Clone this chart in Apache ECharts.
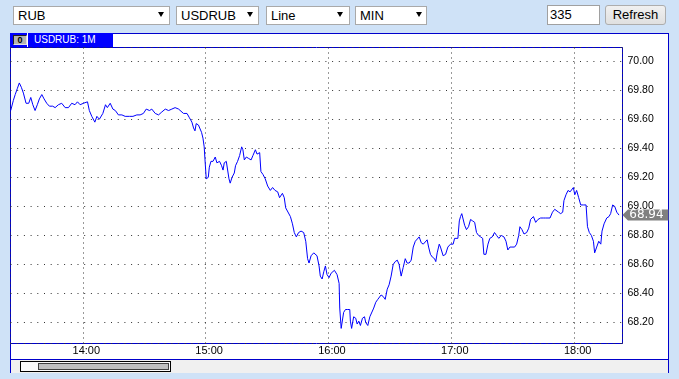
<!DOCTYPE html>
<html>
<head>
<meta charset="utf-8">
<script src="https://cdn.jsdelivr.net/npm/echarts@6/dist/echarts.min.js"></script>
<style>
html,body{margin:0;padding:0;width:679px;height:379px;overflow:hidden;background:#cfe2f7;font-family:"Liberation Sans",Arial,sans-serif;}
.ctl{position:absolute;box-sizing:border-box;height:19px;top:6px;background:#fff;border:1px solid #a9a9a9;font-size:13px;line-height:17px;padding-left:4px;color:#000;}
.arr{position:absolute;top:5px;width:0;height:0;border-left:3px solid transparent;border-right:3px solid transparent;border-top:5px solid #000;}
#inp{position:absolute;box-sizing:border-box;left:547px;top:5px;width:53px;height:20px;background:#fff;border:1px solid #a0a0a0;font-size:13px;line-height:18px;padding-left:2px;}
#btn{position:absolute;box-sizing:border-box;left:605px;top:5px;width:61px;height:20px;background:linear-gradient(#f0f0f0,#e0e0e0);border:1px solid #adadad;border-radius:3px;font-size:13px;line-height:18px;text-align:center;}
#frame{position:absolute;left:10px;top:33px;width:659px;height:340px;box-sizing:border-box;border:1px solid #0000cc;border-bottom:none;background:#fff;z-index:0;}
#chart{position:absolute;left:0;top:0;width:679px;height:379px;z-index:1;}
#hdr{position:absolute;left:10px;top:33px;width:103px;height:14px;background:#0000ff;z-index:2;}
#ico{position:absolute;left:3px;top:2px;width:14px;height:10px;box-sizing:border-box;background:#b4b4b4;border-top:1px solid #202020;border-left:1px solid #202020;border-right:1px solid #e0e0e0;border-bottom:1px solid #e0e0e0;font-size:9px;font-weight:bold;line-height:8px;text-align:center;color:#000;}
#sep{position:absolute;left:17px;top:0;width:1px;height:14px;background:#fff;}
#ttl{position:absolute;left:24px;top:0;height:14px;line-height:14px;font-size:10px;color:#fff;white-space:nowrap;}
#scroll{position:absolute;left:11px;top:359px;width:657px;height:14px;box-sizing:border-box;background:#f0f0f0;border-top:1px solid #0000cc;z-index:2;}
#thumb{position:absolute;left:9px;top:1px;width:151px;height:11px;box-sizing:border-box;border:1px solid #000;background:#fafafa;}
#bar{position:absolute;left:17px;top:1px;width:131px;height:7px;box-sizing:border-box;border:1px solid #404040;background:#c0c0c0;}
</style>
</head>
<body>
<div class="ctl" style="left:13px;width:157px;">RUB<span class="arr" style="left:144px;"></span></div>
<div class="ctl" style="left:176px;width:83px;">USDRUB<span class="arr" style="left:70px;"></span></div>
<div class="ctl" style="left:266px;width:84px;">Line<span class="arr" style="left:70px;"></span></div>
<div class="ctl" style="left:355px;width:72px;">MIN<span class="arr" style="left:60px;"></span></div>
<div id="inp">335</div>
<div id="btn">Refresh</div>
<div id="frame"></div>
<div id="chart"></div>
<div id="hdr"><div id="ico">0</div><div id="sep"></div><div id="ttl">USDRUB: 1M</div></div>
<div id="scroll"><div id="thumb"><div id="bar"></div></div></div>
<script>
// Window: 13:24:42 .. 18:23:36 ; offsets below are minutes after window start
const windowStart = [13, 24, 42];
const windowMinutes = 298.9;
const yMin = 68.056;
const yMax = 70.094;
const lastPrice = 68.94;

const minutes = [
0.1,1.4,2.3,3.3,4.3,5.3,6.3,7.6,8.9,9.9,10.9,12.0,13.1,14.1,15.3,16.4,17.7,19.0,20.6,21.8,
23.4,25.0,26.7,28.3,29.9,31.5,32.7,34.0,35.6,37.6,38.5,39.7,41.2,42.2,43.4,45.1,46.4,47.3,48.7,50.0,
51.2,52.7,54.4,56.0,58.1,59.8,61.7,63.3,64.9,66.3,67.9,69.0,70.7,72.3,73.9,75.6,77.2,78.8,80.4,82.1,
82.9,84.5,86.2,87.4,88.6,89.4,90.1,90.7,91.8,92.7,93.3,94.0,94.6,95.0,95.6,96.6,97.1,97.9,98.9,100.0,
100.8,102.1,103.1,103.8,104.4,105.4,106.2,106.7,107.3,108.2,109.3,109.9,110.9,111.9,112.9,113.5,114.2,115.2,116.3,117.5,
118.4,119.6,120.4,121.7,122.3,123.3,124.4,125.6,126.9,128.0,129.2,130.5,131.4,132.8,133.7,134.4,136.7,137.7,138.6,139.6,
140.7,141.9,143.2,144.2,145.1,145.8,146.8,148.1,149.7,150.7,151.3,152.2,153.0,153.8,154.6,155.6,156.6,158.2,159.5,160.5,
160.8,161.5,162.0,162.7,163.6,164.7,165.7,166.0,166.6,167.6,168.6,169.3,170.1,170.9,171.9,172.9,173.5,174.5,175.5,176.4,
177.4,178.4,179.4,180.3,181.0,182.0,183.0,184.0,184.9,185.9,186.9,187.9,188.9,189.8,190.8,191.8,192.8,193.7,194.7,195.7,
196.7,197.7,198.6,199.6,200.6,201.6,202.5,203.5,204.2,205.1,206.1,207.1,207.7,208.4,209.4,210.0,211.3,212.5,213.6,214.9,
216.2,216.9,217.8,218.5,219.2,219.8,220.4,221.1,221.8,222.7,223.7,224.7,225.7,226.7,227.6,228.6,229.6,230.6,231.2,232.2,
233.2,234.1,235.3,236.4,237.4,238.5,239.7,241.0,242.0,242.9,243.9,244.9,246.2,247.2,248.2,248.8,249.8,250.8,252.1,253.1,
254.0,255.4,256.5,257.6,258.9,260.2,261.4,262.2,263.5,264.7,265.8,266.7,267.7,268.7,269.7,270.3,271.3,272.3,273.3,274.2,
274.9,275.6,276.5,277.5,278.5,279.8,281.1,281.8,282.7,283.7,284.7,285.3,286.3,287.3,288.3,288.9,289.9,291.2,292.3,293.1,
294.1,295.1,296.1,297.2
];
const prices = [
69.66,69.73,69.77,69.81,69.85,69.82,69.78,69.71,69.71,69.75,69.70,69.66,69.70,69.74,69.77,69.74,69.71,69.69,69.69,69.68,
69.70,69.71,69.68,69.68,69.71,69.70,69.72,69.70,69.71,69.72,69.66,69.62,69.58,69.62,69.60,69.64,69.70,69.68,69.71,69.67,
69.66,69.63,69.63,69.62,69.62,69.62,69.63,69.63,69.64,69.67,69.66,69.67,69.64,69.63,69.65,69.67,69.66,69.67,69.68,69.67,
69.66,69.64,69.64,69.61,69.58,69.54,69.52,69.57,69.56,69.55,69.51,69.47,69.41,69.32,69.19,69.20,69.27,69.31,69.31,69.34,
69.30,69.31,69.28,69.25,69.30,69.31,69.30,69.19,69.16,69.20,69.23,69.28,69.31,69.35,69.41,69.39,69.32,69.34,69.33,69.32,
69.35,69.39,69.36,69.37,69.24,69.22,69.19,69.14,69.11,69.13,69.11,69.10,69.06,69.09,69.06,68.99,68.93,68.88,68.82,68.79,
68.82,68.83,68.82,68.76,68.64,68.61,68.66,68.68,68.66,68.59,68.52,68.50,68.55,68.59,68.53,68.51,68.54,68.56,68.53,68.47,
68.30,68.16,68.15,68.27,68.29,68.29,68.29,68.21,68.16,68.24,68.23,68.19,68.21,68.18,68.23,68.24,68.20,68.18,68.24,68.25,
68.30,68.34,68.36,68.37,68.39,68.38,68.36,68.43,68.46,68.52,68.60,68.62,68.63,68.60,68.52,68.58,68.64,68.61,68.61,68.63,
68.72,68.76,68.77,68.79,68.75,68.74,68.75,68.77,68.72,68.67,68.65,68.64,68.62,68.68,68.74,68.72,68.66,68.67,68.72,68.74,
68.74,68.78,68.79,68.78,68.90,68.93,68.95,68.94,68.87,68.84,68.86,68.91,68.90,68.89,68.82,68.80,68.79,68.78,68.67,68.67,
68.74,68.78,68.79,68.82,68.80,68.78,68.80,68.79,68.76,68.70,68.72,68.72,68.72,68.74,68.80,68.86,68.84,68.81,68.82,68.85,
68.91,68.93,68.89,68.91,68.92,68.92,68.92,68.93,68.92,68.96,68.98,68.99,68.96,68.95,68.96,69.04,69.08,69.11,69.10,69.11,
69.13,69.08,69.11,69.06,69.01,69.01,69.01,68.86,68.82,68.80,68.76,68.68,68.72,68.76,68.74,68.83,68.88,68.92,68.93,68.95,
69.01,69.00,68.96,68.94
];

const t0 = new Date(2021, 0, 15, windowStart[0], windowStart[1], windowStart[2]).getTime();
const tMin = t0;
const tMax = t0 + windowMinutes * 60000;
const data = minutes.map((m, k) => [t0 + m * 60000, prices[k]]);

const FONT = '"Liberation Sans", Arial, sans-serif';
const chart = echarts.init(document.getElementById('chart'), null, {renderer: 'canvas'});
chart.setOption({
  animation: false,
  grid: {left: 10.5, top: 47.5, width: 612, height: 296, show: true, backgroundColor: '#fff', borderColor: '#0000cc', borderWidth: 1},
  xAxis: {
    type: 'time', min: tMin, max: tMax, splitNumber: 5,
    axisLine: {show: false}, axisTick: {show: false},
    axisLabel: {formatter: '{HH}:{mm}', showMinLabel: false, showMaxLabel: false, fontSize: 11, color: '#000', fontFamily: FONT, margin: 2, padding: [0, 0, 0, 7]},
    splitLine: {show: true, lineStyle: {color: '#333', width: 1, type: [1, 4]}}
  },
  yAxis: {
    type: 'value', position: 'right', min: yMin, max: yMax, splitNumber: 10,
    axisLine: {show: false}, axisTick: {show: false},
    axisLabel: {formatter: v => v.toFixed(2), showMinLabel: false, showMaxLabel: false, fontSize: 10.5, color: '#000', fontFamily: FONT, margin: 5},
    splitLine: {show: true, lineStyle: {color: '#333', width: 1, type: [1, 5.7]}}
  },
  series: [{
    type: 'line', data: data, showSymbol: false, symbol: 'none',
    lineStyle: {color: '#0000ff', width: 1},
    markPoint: {
      silent: true,
      symbol: 'path://M0,5.5L5.5,0L46,0L46,11L5.5,11Z',
      symbolSize: [46, 11],
      symbolOffset: [23, 0],
      itemStyle: {color: '#808080'},
      label: {show: true, position: 'inside', formatter: lastPrice.toFixed(2), color: '#fff', fontSize: 12, fontFamily: '"DejaVu Sans", sans-serif', offset: [1, 0]},
      data: [{coord: [tMax - 1000, lastPrice]}]
    }
  }]
});
</script>
</body>
</html>
